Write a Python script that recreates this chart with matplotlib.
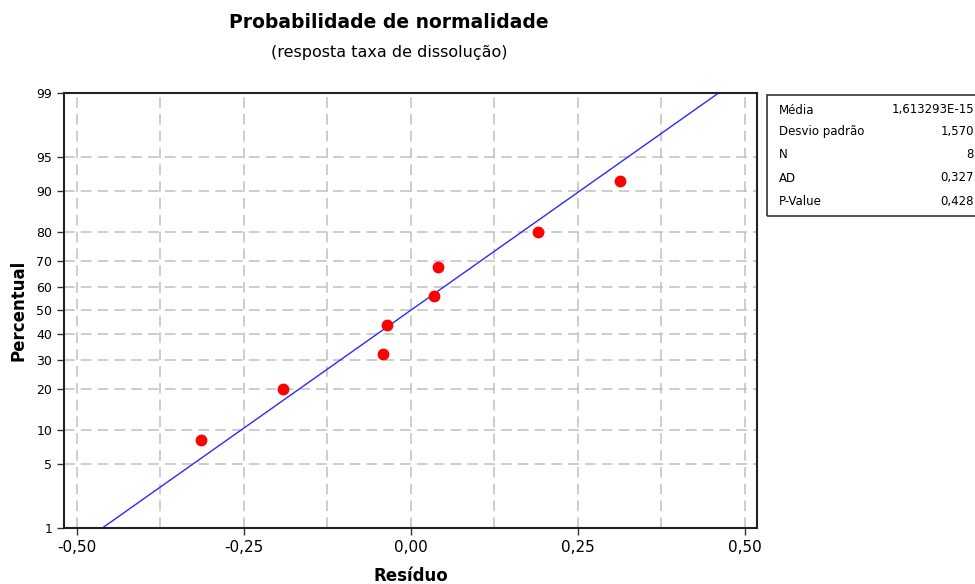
import numpy as np
import matplotlib
matplotlib.use("Agg")
import matplotlib.pyplot as plt
from matplotlib.patches import Rectangle
from statistics import NormalDist

# residuals, with their plotted percentiles
residuos = [-0.314, -0.192, -0.0415, -0.0355, 0.034, 0.040, 0.190, 0.313]
percentis = [8.3, 20.2, 32.1, 44.0, 56.0, 67.9, 79.8, 91.7]

y_ticks = [1, 5, 10, 20, 30, 40, 50, 60, 70, 80, 90, 95, 99]
x_ticks = [-0.50, -0.25, 0.00, 0.25, 0.50]
x_grid = [-0.50, -0.375, -0.25, -0.125, 0.0, 0.125, 0.25, 0.375, 0.50]

stats_labels = ["Média", "Desvio padrão", "N", "AD", "P-Value"]
stats_values = ["1,613293E-15", "1,570", "8", "0,327", "0,428"]

nd = NormalDist()
def z(p):
    return nd.inv_cdf(p / 100.0)

plt.rcParams['font.family'] = ['DejaVu Sans']
fig = plt.figure(figsize=(9.75, 5.84), dpi=100)
ax = fig.add_axes([0.0656, 0.0959, 0.7108, 0.7449])

# grid
for gx in x_grid:
    ax.axvline(gx, color='#c0c0c0', lw=1.1, ls=(0, (7, 4)), zorder=0)
for t in y_ticks:
    ax.axhline(z(t), color='#c0c0c0', lw=1.1, ls=(0, (7, 4)), zorder=0)

# fitted normal line
mu = np.mean(residuos)
sd = np.std(residuos, ddof=1)
zz = np.array([z(0.5), z(99.5)])
ax.plot(mu + sd * zz, zz, color='#2a2aff', lw=1, zorder=2)

ax.plot(residuos, [z(p) for p in percentis], 'o', color='#ff0000', ms=7.5,
        mec='#ff0000', zorder=3)

ax.set_xlim(-0.5195, 0.518)
ax.set_ylim(z(1), z(99))
ax.set_xticks(x_ticks)
ax.set_xticklabels([f"{v:.2f}".replace('.', ',') for v in x_ticks], fontsize=11)
ax.set_yticks([z(t) for t in y_ticks])
ax.set_yticklabels([str(t) for t in y_ticks], fontsize=9)
ax.tick_params(axis='both', direction='out', length=5, width=1, color='#333333')
for s in ax.spines.values():
    s.set_linewidth(1.5)
    s.set_color('#222222')

ax.set_xlabel("Resíduo", fontsize=12, fontweight='bold', labelpad=9)
ax.set_ylabel("Percentual", fontsize=12, fontweight='bold', labelpad=6)

fig.text(0.399, 0.962, "Probabilidade de normalidade", ha='center', va='center',
         fontsize=13.5, fontweight='bold')
fig.text(0.399, 0.910, "(resposta taxa de dissolução)", ha='center', va='center',
         fontsize=11.5)

# stats box
box = Rectangle((767 / 975, 1 - 216 / 584), 0.3, 121 / 584, transform=fig.transFigure,
                fill=False, ec='#333333', lw=1.2, clip_on=False)
fig.patches.append(box)
rows_y = [110, 132, 155, 178, 202]
for lab, val, py in zip(stats_labels, stats_values, rows_y):
    fig.text(779 / 975, 1 - py / 584, lab, ha='left', va='center', fontsize=8.5)
    fig.text(974 / 975, 1 - py / 584, val, ha='right', va='center', fontsize=8.5)

fig.savefig("out.png", dpi=100)
